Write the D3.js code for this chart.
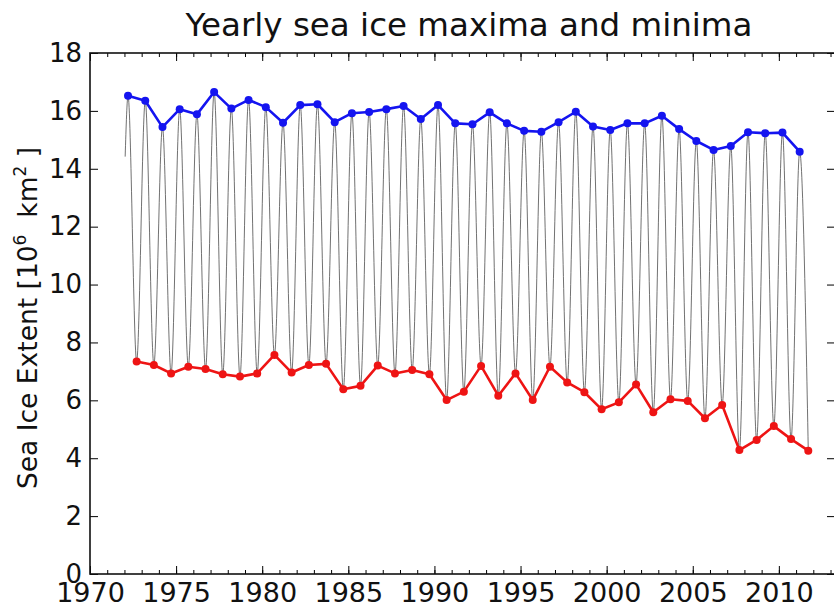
<!DOCTYPE html>
<html>
<head>
<meta charset="utf-8">
<script src="https://cdn.jsdelivr.net/npm/d3@7/dist/d3.min.js"></script>
<style>
  html, body { margin: 0; padding: 0; background: #fff; }
  svg { display: block; }
</style>
</head>
<body>
<script>
// ---- data ----
const years = [1972,1973,1974,1975,1976,1977,1978,1979,1980,1981,
               1982,1983,1984,1985,1986,1987,1988,1989,1990,1991,
               1992,1993,1994,1995,1996,1997,1998,1999,2000,2001,
               2002,2003,2004,2005,2006,2007,2008,2009,2010,2011];
const maxima = [16.52,16.35,15.44,16.06,15.88,16.65,16.08,16.38,16.13,15.59,
                16.20,16.23,15.61,15.92,15.96,16.06,16.17,15.72,16.20,15.57,
                15.54,15.95,15.57,15.31,15.28,15.61,15.97,15.46,15.34,15.57,
                15.57,15.83,15.37,14.96,14.65,14.79,15.26,15.23,15.25,14.59];
const minima = [7.34,7.22,6.93,7.16,7.08,6.90,6.82,6.93,7.57,6.96,
                7.22,7.26,6.38,6.50,7.20,6.93,7.05,6.90,6.01,6.30,
                7.19,6.16,6.93,6.01,7.16,6.62,6.28,5.69,5.93,6.55,
                5.59,6.04,5.98,5.38,5.84,4.28,4.63,5.11,4.66,4.26];
const maxMonth = 3;      // March
const minMonth = 9;      // September
const startMonth = 1;    // series starts January 1972
const startValue = 14.42;
const xMajorTicks = [1970,1975,1980,1985,1990,1995,2000,2005,2010];
const xMinorTicks = [1970,1971,1972,1973,1974,1975,1976,1977,1978,1979,1980,1981,1982,1983,1984,1985,
                     1986,1987,1988,1989,1990,1991,1992,1993,1994,1995,1996,1997,1998,1999,2000,2001,
                     2002,2003,2004,2005,2006,2007,2008,2009,2010,2011,2012,2013];
const yTicks = [0,2,4,6,8,10,12,14,16,18];
const titleText = "Yearly sea ice maxima and minima";

// ---- layout ----
const W = 834, H = 608;
const L = 90, T = 53, R = 835, B = 574;
const dec = (y, m) => y + (m - 0.5) / 12;

const svg = d3.select("body").append("svg").attr("width", W).attr("height", H)
  .style("font-family", "'DejaVu Sans', sans-serif");

const x = d3.scaleLinear().domain([1970, 2013.26]).range([L, R]);
const y = d3.scaleLinear().domain([0, 18]).range([B, T]);

const maxPts = years.map((yr, i) => ({t: dec(yr, maxMonth), v: maxima[i]}));
const minPts = years.map((yr, i) => ({t: dec(yr, minMonth), v: minima[i]}));
const seasonal = [{t: dec(years[0], startMonth), v: startValue}];
years.forEach((yr, i) => { seasonal.push(maxPts[i]); seasonal.push(minPts[i]); });

svg.append("clipPath").attr("id", "clip").append("rect")
  .attr("x", L).attr("y", T).attr("width", R - L).attr("height", B - T);

const plot = svg.append("g").attr("clip-path", "url(#clip)");

// seasonal cycle line
plot.append("path").datum(seasonal)
  .attr("fill", "none").attr("stroke", "#444").attr("stroke-width", 0.9).attr("stroke-opacity", 0.85)
  .attr("d", d3.line().x(d => x(d.t)).y(d => y(d.v)).curve(d3.curveMonotoneX));

function series(pts, color) {
  plot.append("path").datum(pts)
    .attr("fill", "none").attr("stroke", color).attr("stroke-width", 2.6)
    .attr("stroke-linejoin", "round")
    .attr("d", d3.line().x(d => x(d.t)).y(d => y(d.v)));
  plot.selectAll(null).data(pts).enter().append("circle")
    .attr("cx", d => x(d.t)).attr("cy", d => y(d.v)).attr("r", 4)
    .attr("fill", color);
}
series(maxPts, "#1414f0");
series(minPts, "#ee1414");

// ---- axes (ticks inward, matplotlib style) ----
function styleAxis(g, fs) {
  g.select(".domain").remove();
  g.selectAll("line").attr("stroke", "#000").attr("stroke-width", 1);
  g.selectAll("text").attr("font-size", fs).attr("fill", "#111")
    .attr("font-family", "'DejaVu Sans', sans-serif");
}
// bottom minor
svg.append("g").attr("transform", `translate(0,${B})`)
  .call(d3.axisBottom(x).tickValues(xMinorTicks).tickSize(-4).tickFormat(""))
  .call(g => styleAxis(g, 0));
// bottom major
svg.append("g").attr("transform", `translate(0,${B})`)
  .call(d3.axisBottom(x).tickValues(xMajorTicks).tickSize(-8).tickPadding(9).tickFormat(d3.format("d")))
  .call(g => styleAxis(g, 27));
// top minor + major
svg.append("g").attr("transform", `translate(0,${T})`)
  .call(d3.axisTop(x).tickValues(xMinorTicks).tickSize(-4).tickFormat(""))
  .call(g => styleAxis(g, 0));
svg.append("g").attr("transform", `translate(0,${T})`)
  .call(d3.axisTop(x).tickValues(xMajorTicks).tickSize(-8).tickFormat(""))
  .call(g => styleAxis(g, 0));
// left
svg.append("g").attr("transform", `translate(${L},0)`)
  .call(d3.axisLeft(y).tickValues(yTicks).tickSize(-8).tickPadding(8).tickFormat(d3.format("d")))
  .call(g => styleAxis(g, 26));
// right
svg.append("g").attr("transform", `translate(${R},0)`)
  .call(d3.axisRight(y).tickValues(yTicks).tickSize(-8).tickFormat(""))
  .call(g => styleAxis(g, 0));

// frame
svg.append("rect").attr("x", L).attr("y", T).attr("width", R - L).attr("height", B - T)
  .attr("fill", "none").attr("stroke", "#111").attr("stroke-width", 1.6);

// title
svg.append("text").attr("x", 469).attr("y", 36).attr("text-anchor", "middle")
  .attr("font-size", 32.5).attr("fill", "#111").text(titleText);

// y label
const yl = svg.append("text").attr("transform", `translate(37,318) rotate(-90)`)
  .attr("text-anchor", "middle").attr("font-size", 26.5).attr("fill", "#111");
yl.append("tspan").text("Sea Ice Extent [10");
yl.append("tspan").attr("font-size", 17).attr("dy", -11).text("6");
yl.append("tspan").attr("dy", 11).text("\u00a0 km");
yl.append("tspan").attr("font-size", 17).attr("dy", -11).text("2");
yl.append("tspan").attr("dy", 11).text(" ]");
</script>
</body>
</html>
